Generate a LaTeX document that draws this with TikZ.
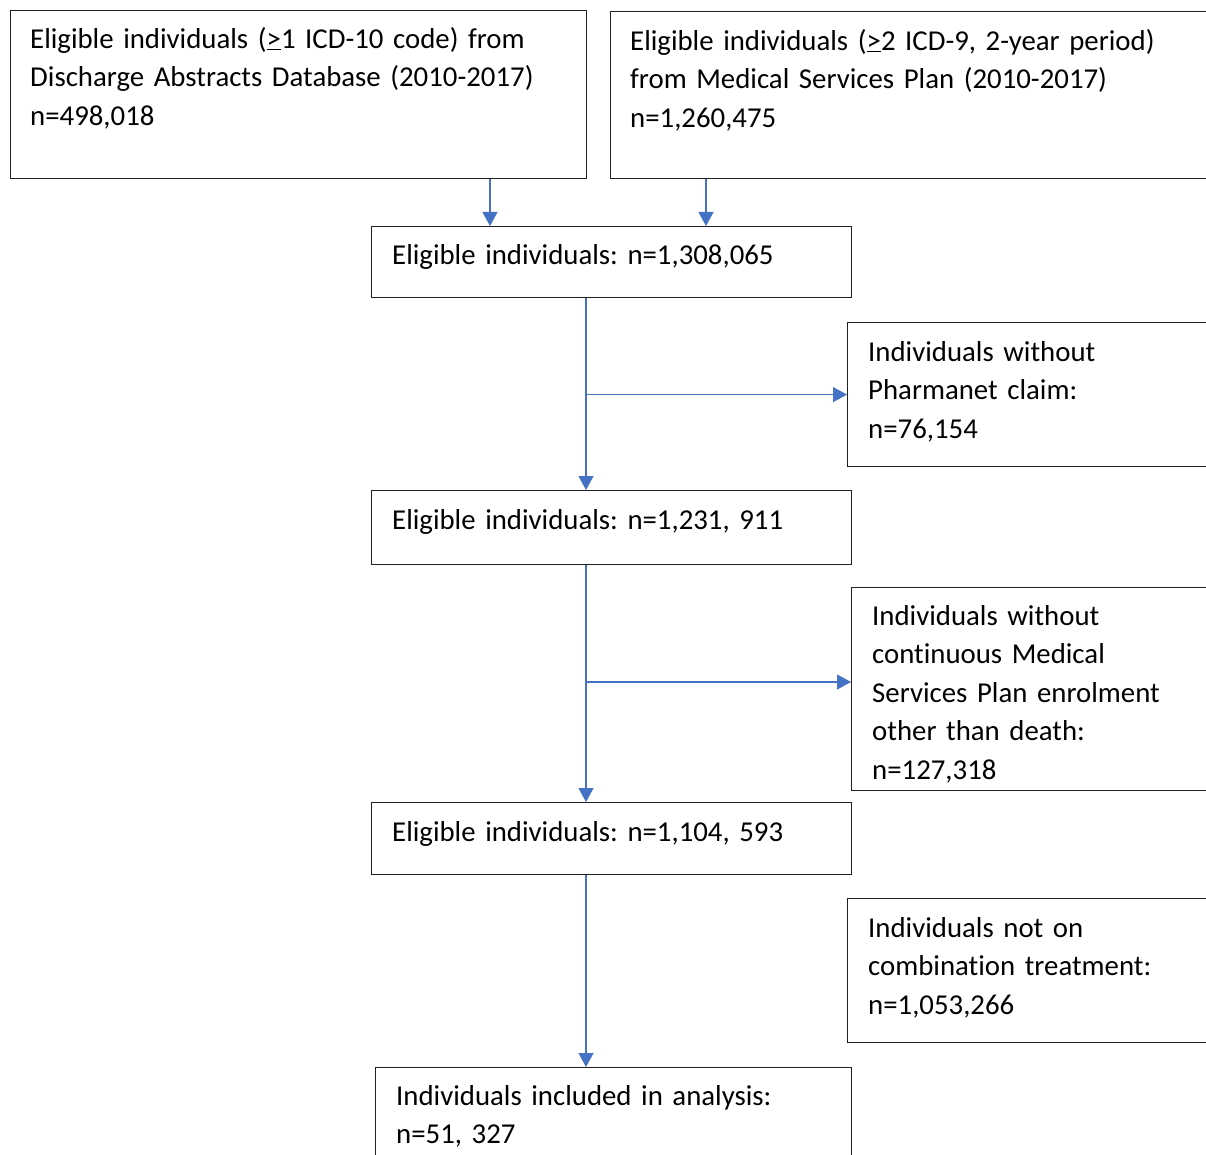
\documentclass[tikz,border=0pt]{standalone}
\usepackage{fontspec}
\setmainfont{Carlito}[Ligatures=NoCommon]
\usetikzlibrary{arrows.meta}
\definecolor{arrowblue}{HTML}{4472C4}
\definecolor{boxline}{HTML}{202020}
\frenchspacing
\begin{document}
\begin{tikzpicture}[x=1pt,y=-1pt,
  box/.style={draw=boxline, line width=1.2pt, rectangle, inner sep=0pt, anchor=north west},
  txt/.style={anchor=north west, inner sep=0pt, align=left, text width=560pt,
    font=\fontsize{28.8}{38.5}\selectfont\frenchspacing},
  flow/.style={draw=arrowblue, line width=1.2pt, -{Triangle[length=14pt,width=15pt]}}]
\useasboundingbox (0,0) rectangle (1206,1155);
\clip (0,0) rectangle (1206,1155);
% boxes
\node[box, minimum width=576pt, minimum height=168pt] (a) at (10,10) {};
\node[box, minimum width=620pt, minimum height=167pt] (b) at (610,11) {};
\node[box, minimum width=480pt, minimum height=71pt] (c) at (371,226) {};
\node[box, minimum width=400pt, minimum height=144pt] (d) at (847,322) {};
\node[box, minimum width=480pt, minimum height=74pt] (e) at (371,490) {};
\node[box, minimum width=400pt, minimum height=203pt] (f) at (851,587) {};
\node[box, minimum width=480pt, minimum height=72pt] (g) at (371,802) {};
\node[box, minimum width=400pt, minimum height=144pt] (h) at (847,898) {};
\node[box, minimum width=476pt, minimum height=140pt] (i) at (375,1067) {};
% texts
\node[txt] (ta) at (30,21) {\strut Eligible individuals (\underline{>}1 ICD-10 code) from\\Discharge Abstracts Database (2010-2017)\\n=498,018};
\node[txt] (tb) at (630,23) {\strut Eligible individuals (\underline{>}2 ICD-9, 2-year period)\\from Medical Services Plan (2010-2017)\\n=1,260,475};
\node[txt] (tc) at (392,237) {\strut Eligible individuals: n=1,308,065};
\node[txt] (td) at (868,334) {\strut Individuals without\\Pharmanet claim:\\n=76,154};
\node[txt] (te) at (392,502) {\strut Eligible individuals: n=1,231, 911};
\node[txt] (tf) at (872,598) {\strut Individuals without\\continuous Medical\\Services Plan enrolment\\other than death:\\n=127,318};
\node[txt] (tg) at (392,814) {\strut Eligible individuals: n=1,104, 593};
\node[txt] (th) at (868,910) {\strut Individuals not on\\combination treatment:\\n=1,053,266};
\node[txt] (ti) at (396,1078) {\strut Individuals included in analysis:\\n=51, 327};
% connectors
\coordinate (xl) at (490,0);
\coordinate (xr) at (706,0);
\coordinate (xm) at (586,0);
\coordinate (y2) at (0,682);
\draw[flow] (a.south -| xl) -- (c.north -| xl);
\draw[flow] (b.south -| xr) -- (c.north -| xr);
\draw[flow] (c.south -| xm) -- (e.north -| xm);
\draw[flow] (xm |- d.west) -- (d.west);
\draw[flow] (e.south -| xm) -- (g.north -| xm);
\draw[flow] (xm |- y2) -- (f.west |- y2);
\draw[flow] (g.south -| xm) -- (i.north -| xm);
\end{tikzpicture}
\end{document}
